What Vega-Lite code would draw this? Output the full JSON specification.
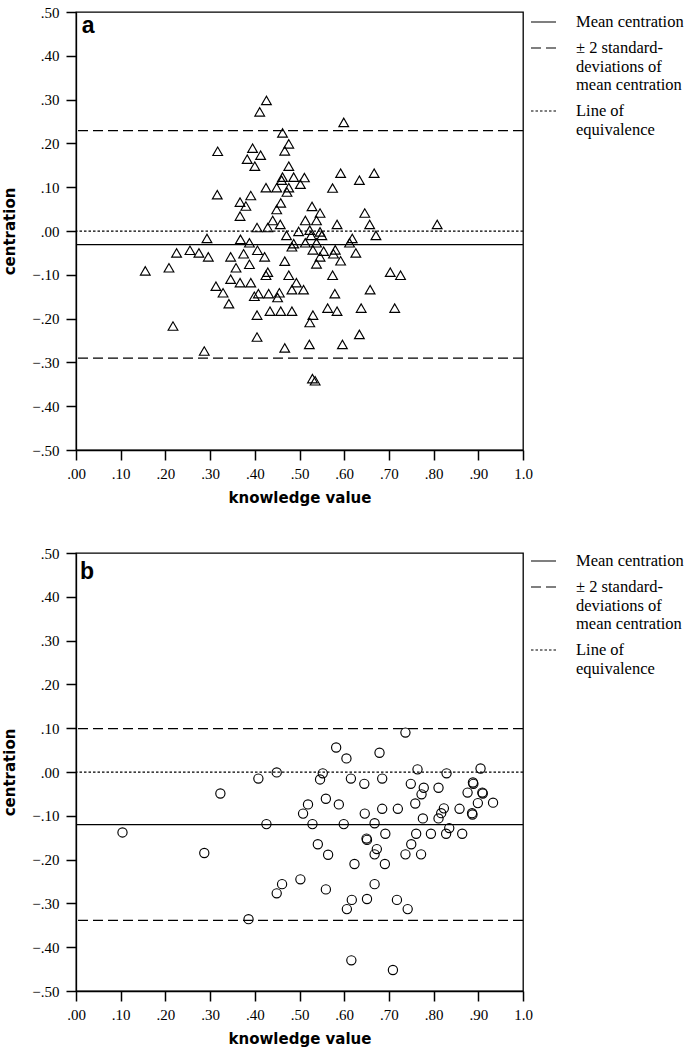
{
  "$schema": "https://vega.github.io/schema/vega-lite/v6.json",
  "padding": {"left": 2, "top": 4, "right": 0, "bottom": 0},
  "background": "white",
  "spacing": 39,
  "config": {
    "view": {"stroke": "black", "strokeWidth": 1.3},
    "axis": {
      "grid": false,
      "domainColor": "black",
      "domainWidth": 1.3,
      "tickColor": "black",
      "tickWidth": 1.5,
      "tickSize": 10,
      "labelColor": "black",
      "labelFont": "Liberation Serif",
      "labelFontSize": 15,
      "titleColor": "black",
      "titleFont": "DejaVu Sans",
      "titleFontSize": 15,
      "titleFontWeight": "bold"
    },
    "legend": {
      "title": null,
      "orient": "none",
      "legendX": 454,
      "legendY": -3.5,
      "padding": 0,
      "symbolType": "stroke",
      "symbolSize": 625,
      "symbolStrokeColor": "black",
      "symbolStrokeWidth": 1.2,
      "labelFont": "Liberation Serif",
      "labelFontSize": 16.5,
      "labelColor": "black",
      "labelBaseline": "middle",
      "labelOffset": 19,
      "labelLimit": 300,
      "rowPadding": 4
    }
  },
  "datasets": {
    "pointsA": [
      {"knowledge":0.426,"centration":0.298},{"knowledge":0.411,"centration":0.272},{"knowledge":0.462,"centration":0.224},{"knowledge":0.476,"centration":0.199},{"knowledge":0.467,"centration":0.183},{"knowledge":0.317,"centration":0.182},{"knowledge":0.395,"centration":0.189},{"knowledge":0.413,"centration":0.173},{"knowledge":0.383,"centration":0.164},{"knowledge":0.400,"centration":0.148},{"knowledge":0.476,"centration":0.148},{"knowledge":0.462,"centration":0.123},{"knowledge":0.487,"centration":0.123},{"knowledge":0.460,"centration":0.116},{"knowledge":0.425,"centration":0.099},{"knowledge":0.449,"centration":0.099},{"knowledge":0.476,"centration":0.099},{"knowledge":0.472,"centration":0.089},{"knowledge":0.502,"centration":0.107},{"knowledge":0.316,"centration":0.083},{"knowledge":0.391,"centration":0.081},{"knowledge":0.367,"centration":0.066},{"knowledge":0.380,"centration":0.057},{"knowledge":0.458,"centration":0.064},{"knowledge":0.449,"centration":0.049},{"knowledge":0.367,"centration":0.034},{"knowledge":0.440,"centration":0.024},{"knowledge":0.457,"centration":0.015},{"knowledge":0.405,"centration":0.008},{"knowledge":0.429,"centration":0.008},{"knowledge":0.498,"centration":-0.001},{"knowledge":0.471,"centration":-0.010},{"knowledge":0.293,"centration":-0.017},{"knowledge":0.368,"centration":-0.019},{"knowledge":0.388,"centration":-0.027},{"knowledge":0.487,"centration":-0.029},{"knowledge":0.483,"centration":-0.036},{"knowledge":0.225,"centration":-0.050},{"knowledge":0.255,"centration":-0.044},{"knowledge":0.275,"centration":-0.050},{"knowledge":0.296,"centration":-0.059},{"knowledge":0.346,"centration":-0.059},{"knowledge":0.375,"centration":-0.052},{"knowledge":0.406,"centration":-0.044},{"knowledge":0.422,"centration":-0.059},{"knowledge":0.467,"centration":-0.069},{"knowledge":0.358,"centration":-0.084},{"knowledge":0.388,"centration":-0.076},{"knowledge":0.155,"centration":-0.091},{"knowledge":0.208,"centration":-0.084},{"knowledge":0.429,"centration":-0.094},{"knowledge":0.425,"centration":-0.101},{"knowledge":0.476,"centration":-0.101},{"knowledge":0.346,"centration":-0.110},{"knowledge":0.367,"centration":-0.118},{"knowledge":0.391,"centration":-0.118},{"knowledge":0.313,"centration":-0.126},{"knowledge":0.493,"centration":-0.118},{"knowledge":0.329,"centration":-0.141},{"knowledge":0.408,"centration":-0.143},{"knowledge":0.399,"centration":-0.149},{"knowledge":0.431,"centration":-0.143},{"knowledge":0.455,"centration":-0.141},{"knowledge":0.451,"centration":-0.152},{"knowledge":0.483,"centration":-0.134},{"knowledge":0.342,"centration":-0.166},{"knowledge":0.434,"centration":-0.183},{"knowledge":0.458,"centration":-0.183},{"knowledge":0.483,"centration":-0.183},{"knowledge":0.405,"centration":-0.192},{"knowledge":0.217,"centration":-0.217},{"knowledge":0.405,"centration":-0.242},{"knowledge":0.287,"centration":-0.274},{"knowledge":0.467,"centration":-0.267},
      {"knowledge":0.511,"centration":0.122},{"knowledge":0.528,"centration":0.056},{"knowledge":0.546,"centration":0.041},{"knowledge":0.513,"centration":0.024},{"knowledge":0.538,"centration":0.024},{"knowledge":0.584,"centration":0.015},{"knowledge":0.646,"centration":0.041},{"knowledge":0.657,"centration":0.015},{"knowledge":0.808,"centration":0.015},{"knowledge":0.592,"centration":0.132},{"knowledge":0.634,"centration":0.116},{"knowledge":0.667,"centration":0.132},{"knowledge":0.574,"centration":0.098},{"knowledge":0.599,"centration":0.248},{"knowledge":0.523,"centration":0.002},{"knowledge":0.526,"centration":-0.010},{"knowledge":0.546,"centration":-0.002},{"knowledge":0.550,"centration":-0.010},{"knowledge":0.513,"centration":-0.027},{"knowledge":0.538,"centration":-0.027},{"knowledge":0.618,"centration":-0.017},{"knowledge":0.612,"centration":-0.027},{"knowledge":0.671,"centration":-0.010},{"knowledge":0.530,"centration":-0.043},{"knowledge":0.554,"centration":-0.046},{"knowledge":0.580,"centration":-0.043},{"knowledge":0.576,"centration":-0.052},{"knowledge":0.626,"centration":-0.050},{"knowledge":0.546,"centration":-0.059},{"knowledge":0.592,"centration":-0.068},{"knowledge":0.538,"centration":-0.075},{"knowledge":0.574,"centration":-0.101},{"knowledge":0.703,"centration":-0.094},{"knowledge":0.726,"centration":-0.101},{"knowledge":0.509,"centration":-0.134},{"knowledge":0.579,"centration":-0.143},{"knowledge":0.658,"centration":-0.134},{"knowledge":0.563,"centration":-0.176},{"knowledge":0.584,"centration":-0.183},{"knowledge":0.638,"centration":-0.176},{"knowledge":0.713,"centration":-0.176},{"knowledge":0.530,"centration":-0.192},{"knowledge":0.523,"centration":-0.209},{"knowledge":0.634,"centration":-0.236},{"knowledge":0.522,"centration":-0.259},{"knowledge":0.596,"centration":-0.259},{"knowledge":0.529,"centration":-0.337},{"knowledge":0.535,"centration":-0.342}
    ],
    "pointsB": [
      {"knowledge":0.104,"centration":-0.138},{"knowledge":0.287,"centration":-0.185},{"knowledge":0.323,"centration":-0.049},{"knowledge":0.408,"centration":-0.015},{"knowledge":0.449,"centration":-0.001},{"knowledge":0.426,"centration":-0.119},{"knowledge":0.386,"centration":-0.336},{"knowledge":0.449,"centration":-0.277},{"knowledge":0.461,"centration":-0.256},{"knowledge":0.502,"centration":-0.245},{"knowledge":0.508,"centration":-0.095},{"knowledge":0.519,"centration":-0.074},{"knowledge":0.529,"centration":-0.119},{"knowledge":0.546,"centration":-0.017},{"knowledge":0.552,"centration":-0.003},{"knowledge":0.559,"centration":-0.061},{"knowledge":0.541,"centration":-0.165},{"knowledge":0.564,"centration":-0.189},{"knowledge":0.559,"centration":-0.268},{"knowledge":0.582,"centration":0.056},{"knowledge":0.605,"centration":0.031},{"knowledge":0.588,"centration":-0.074},{"knowledge":0.599,"centration":-0.119},{"knowledge":0.615,"centration":-0.015},{"knowledge":0.623,"centration":-0.210},{"knowledge":0.617,"centration":-0.292},{"knowledge":0.606,"centration":-0.313},{"knowledge":0.616,"centration":-0.430},{"knowledge":0.645,"centration":-0.027},{"knowledge":0.646,"centration":-0.095},{"knowledge":0.650,"centration":-0.152},{"knowledge":0.651,"centration":-0.155},{"knowledge":0.668,"centration":-0.117},{"knowledge":0.673,"centration":-0.176},{"knowledge":0.668,"centration":-0.188},{"knowledge":0.691,"centration":-0.210},{"knowledge":0.668,"centration":-0.256},{"knowledge":0.651,"centration":-0.290},{"knowledge":0.679,"centration":0.044},{"knowledge":0.685,"centration":-0.015},{"knowledge":0.685,"centration":-0.084},{"knowledge":0.692,"centration":-0.141},{"knowledge":0.720,"centration":-0.084},{"knowledge":0.737,"centration":0.090},{"knowledge":0.718,"centration":-0.292},{"knowledge":0.742,"centration":-0.313},{"knowledge":0.709,"centration":-0.452},{"knowledge":0.737,"centration":-0.188},{"knowledge":0.750,"centration":-0.165},{"knowledge":0.749,"centration":-0.027},{"knowledge":0.759,"centration":-0.072},{"knowledge":0.761,"centration":-0.141},{"knowledge":0.772,"centration":-0.188},{"knowledge":0.764,"centration":0.006},{"knowledge":0.778,"centration":-0.036},{"knowledge":0.773,"centration":-0.051},{"knowledge":0.776,"centration":-0.106},{"knowledge":0.794,"centration":-0.141},{"knowledge":0.811,"centration":-0.036},{"knowledge":0.811,"centration":-0.106},{"knowledge":0.817,"centration":-0.094},{"knowledge":0.823,"centration":-0.083},{"knowledge":0.829,"centration":-0.003},{"knowledge":0.828,"centration":-0.141},{"knowledge":0.835,"centration":-0.128},{"knowledge":0.858,"centration":-0.084},{"knowledge":0.864,"centration":-0.141},{"knowledge":0.876,"centration":-0.047},{"knowledge":0.888,"centration":-0.024},{"knowledge":0.889,"centration":-0.027},{"knowledge":0.886,"centration":-0.094},{"knowledge":0.887,"centration":-0.097},{"knowledge":0.899,"centration":-0.071},{"knowledge":0.909,"centration":-0.047},{"knowledge":0.910,"centration":-0.049},{"knowledge":0.905,"centration":0.008},{"knowledge":0.933,"centration":-0.070}
    ],
    "linesA": [
      {"line":"Mean centration","centration":-0.031},
      {"line":"± 2 standard-deviations of mean centration","centration":0.229},
      {"line":"± 2 standard-deviations of mean centration","centration":-0.290},
      {"line":"Line of equivalence","centration":0}
    ],
    "linesB": [
      {"line":"Mean centration","centration":-0.120},
      {"line":"± 2 standard-deviations of mean centration","centration":0.099},
      {"line":"± 2 standard-deviations of mean centration","centration":-0.339},
      {"line":"Line of equivalence","centration":0}
    ],
    "panelA": [{"panel":"a","knowledge":0.013,"centration":0.453}],
    "panelB": [{"panel":"b","knowledge":0.009,"centration":0.44}]
  },
  "resolve": {
    "scale": {"x": "independent", "y": "independent", "strokeDash": "independent"},
    "legend": {"strokeDash": "independent"}
  },
  "vconcat": [
    {
      "width": 447,
      "height": 438,
      "layer": [
        {
          "data": {"name": "pointsA"},
          "mark": {"type": "point", "shape": "triangle-up", "filled": false, "stroke": "black", "strokeWidth": 1.15, "size": 95, "opacity": 1},
          "encoding": {
            "x": {"field": "knowledge", "type": "quantitative", "scale": {"domain": [0, 1], "nice": false, "zero": false},
              "axis": {"title": "knowledge value", "values": [0,0.1,0.2,0.3,0.4,0.5,0.6,0.7,0.8,0.9,1], "labelFlush": false, "labelPadding": 6, "titlePadding": 9,
                "labelExpr": "datum.value == 1 ? '1.0' : replace(format(datum.value, '.2f'), '0.', '.')"}},
            "y": {"field": "centration", "type": "quantitative", "scale": {"domain": [-0.5, 0.5], "nice": false, "zero": false},
              "axis": {"title": "centration", "values": [-0.5,-0.4,-0.3,-0.2,-0.1,0,0.1,0.2,0.3,0.4,0.5], "labelPadding": 7, "titlePadding": 14,
                "labelExpr": "replace(format(datum.value, '.2f'), '0.', '.')"}}
          }
        },
        {
          "data": {"name": "linesA"},
          "mark": {"type": "rule", "color": "black", "strokeWidth": 1.25},
          "encoding": {
            "y": {"field": "centration", "type": "quantitative"},
            "strokeDash": {"field": "line", "type": "nominal",
              "scale": {"domain": ["Mean centration", "± 2 standard-deviations of mean centration", "Line of equivalence"], "range": [[1,0],[10,5],[2.5,2]]},
              "legend": {
                "labelExpr": "datum.label == 'Mean centration' ? 'Mean centration' : (datum.label == 'Line of equivalence' ? ['Line of', 'equivalence'] : ['± 2 standard-', 'deviations of', 'mean centration'])"
              }}
          }
        },
        {
          "data": {"name": "panelA"},
          "mark": {"type": "text", "font": "Liberation Sans", "fontWeight": "bold", "fontSize": 23, "align": "left", "baseline": "alphabetic", "color": "black"},
          "encoding": {
            "x": {"field": "knowledge", "type": "quantitative"},
            "y": {"field": "centration", "type": "quantitative"},
            "text": {"field": "panel"}
          }
        }
      ]
    },
    {
      "width": 447,
      "height": 438,
      "layer": [
        {
          "data": {"name": "pointsB"},
          "mark": {"type": "point", "shape": "circle", "filled": false, "stroke": "black", "strokeWidth": 1.15, "size": 85, "opacity": 1},
          "encoding": {
            "x": {"field": "knowledge", "type": "quantitative", "scale": {"domain": [0, 1], "nice": false, "zero": false},
              "axis": {"title": "knowledge value", "values": [0,0.1,0.2,0.3,0.4,0.5,0.6,0.7,0.8,0.9,1], "labelFlush": false, "labelPadding": 6, "titlePadding": 9,
                "labelExpr": "datum.value == 1 ? '1.0' : replace(format(datum.value, '.2f'), '0.', '.')"}},
            "y": {"field": "centration", "type": "quantitative", "scale": {"domain": [-0.5, 0.5], "nice": false, "zero": false},
              "axis": {"title": "centration", "values": [-0.5,-0.4,-0.3,-0.2,-0.1,0,0.1,0.2,0.3,0.4,0.5], "labelPadding": 7, "titlePadding": 14,
                "labelExpr": "replace(format(datum.value, '.2f'), '0.', '.')"}}
          }
        },
        {
          "data": {"name": "linesB"},
          "mark": {"type": "rule", "color": "black", "strokeWidth": 1.25},
          "encoding": {
            "y": {"field": "centration", "type": "quantitative"},
            "strokeDash": {"field": "line", "type": "nominal",
              "scale": {"domain": ["Mean centration", "± 2 standard-deviations of mean centration", "Line of equivalence"], "range": [[1,0],[10,5],[2.5,2]]},
              "legend": {
                "legendY": -5.5,
                "labelExpr": "datum.label == 'Mean centration' ? 'Mean centration' : (datum.label == 'Line of equivalence' ? ['Line of', 'equivalence'] : ['± 2 standard-', 'deviations of', 'mean centration'])"
              }}
          }
        },
        {
          "data": {"name": "panelB"},
          "mark": {"type": "text", "font": "Liberation Sans", "fontWeight": "bold", "fontSize": 23, "align": "left", "baseline": "alphabetic", "color": "black"},
          "encoding": {
            "x": {"field": "knowledge", "type": "quantitative"},
            "y": {"field": "centration", "type": "quantitative"},
            "text": {"field": "panel"}
          }
        }
      ]
    }
  ]
}
